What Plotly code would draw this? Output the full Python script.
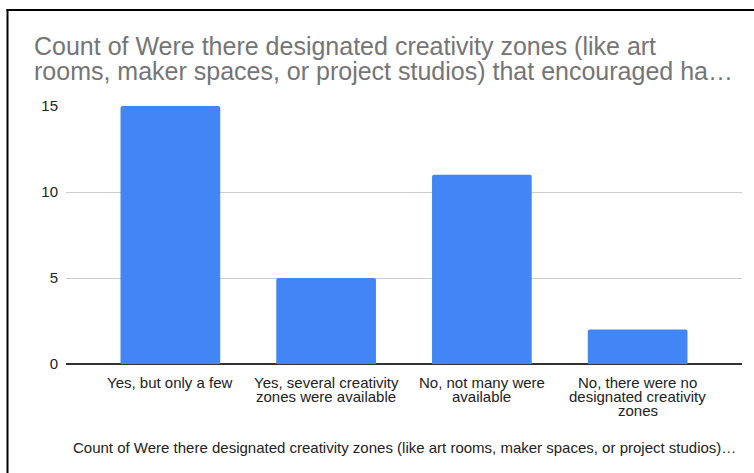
import plotly.graph_objects as go

# Survey answers and their counts
categories = [
    "Yes, but only a few",
    "Yes, several creativity<br>zones were available",
    "No, not many were<br>available",
    "No, there were no<br>designated creativity<br>zones",
]
counts = [15, 5, 11, 2]
y_ticks = [0, 5, 10, 15]

title_lines = [
    "Count of Were there designated creativity zones (like art",
    "rooms, maker spaces, or project studios) that encouraged ha\u2026",
]
axis_title = ("Count of Were there designated creativity zones (like art rooms, "
              "maker spaces, or project studios)\u2026")

FONT = "Arial, Liberation Sans, sans-serif"
TEXT = "#222222"
W, H = 754, 473
L, R, T, B = 66, 12, 106, 109
plot_w = W - L - R
plot_h = H - T - B


def px_x(px):
    return (px - L) / plot_w


def px_y(py):
    return (H - B - py) / plot_h


fig = go.Figure(
    go.Bar(
        x=list(range(len(categories))),
        y=counts,
        width=0.64,
        marker=dict(color="#4285F4", line=dict(width=0), cornerradius=2),
        hoverinfo="skip",
    )
)

annotations = []

# two-line chart title, set tight like the rest of the text
for i, line in enumerate(title_lines):
    annotations.append(dict(
        text=line, xref="paper", yref="paper",
        x=px_x(32), y=px_y(46 + 25 * i), xanchor="left", yanchor="middle",
        showarrow=False, font=dict(family=FONT, size=25, color="#757575"),
    ))

# category labels under each bar, wrapped with a compact line pitch
LABEL_PITCH = 14
for idx, label in enumerate(categories):
    for j, line in enumerate(label.split("<br>")):
        annotations.append(dict(
            text=line, xref="x", yref="paper",
            x=idx, y=px_y(382 + LABEL_PITCH * j), xanchor="center", yanchor="middle",
            showarrow=False, font=dict(family=FONT, size=15, color=TEXT),
        ))

# horizontal axis title
annotations.append(dict(
    text=axis_title, xref="paper", yref="paper",
    x=0.5, y=px_y(447), xanchor="center", yanchor="middle",
    showarrow=False, font=dict(family=FONT, size=15, color=TEXT),
))

fig.update_layout(
    width=W,
    height=H,
    margin=dict(l=L, r=R, t=T, b=B),
    paper_bgcolor="white",
    plot_bgcolor="white",
    showlegend=False,
    font=dict(family=FONT, size=15, color=TEXT),
    xaxis=dict(
        tickmode="array",
        tickvals=list(range(len(categories))),
        showticklabels=False,
        range=[-0.67, len(categories) - 1 + 0.67],
        showgrid=False,
        zeroline=False,
        showline=False,
        ticks="",
        fixedrange=True,
    ),
    yaxis=dict(
        tickmode="array",
        tickvals=y_ticks,
        range=[0, 15],
        showgrid=True,
        gridcolor="#cccccc",
        gridwidth=1,
        zeroline=True,
        zerolinecolor="#333333",
        zerolinewidth=1.5,
        showline=False,
        ticks="",
        ticklabelstandoff=7,
        tickfont=dict(family=FONT, size=15, color=TEXT),
        fixedrange=True,
    ),
    annotations=annotations,
    shapes=[
        # frame edge along the top
        dict(type="line", xref="paper", yref="paper",
             x0=px_x(6.5), x1=px_x(W + 5), y0=px_y(10), y1=px_y(10),
             line=dict(color="black", width=2)),
        # frame edge along the left
        dict(type="line", xref="paper", yref="paper",
             x0=px_x(7.5), x1=px_x(7.5), y0=px_y(9), y1=px_y(H + 5),
             line=dict(color="black", width=2)),
    ],
)

fig.write_html("out.html")
